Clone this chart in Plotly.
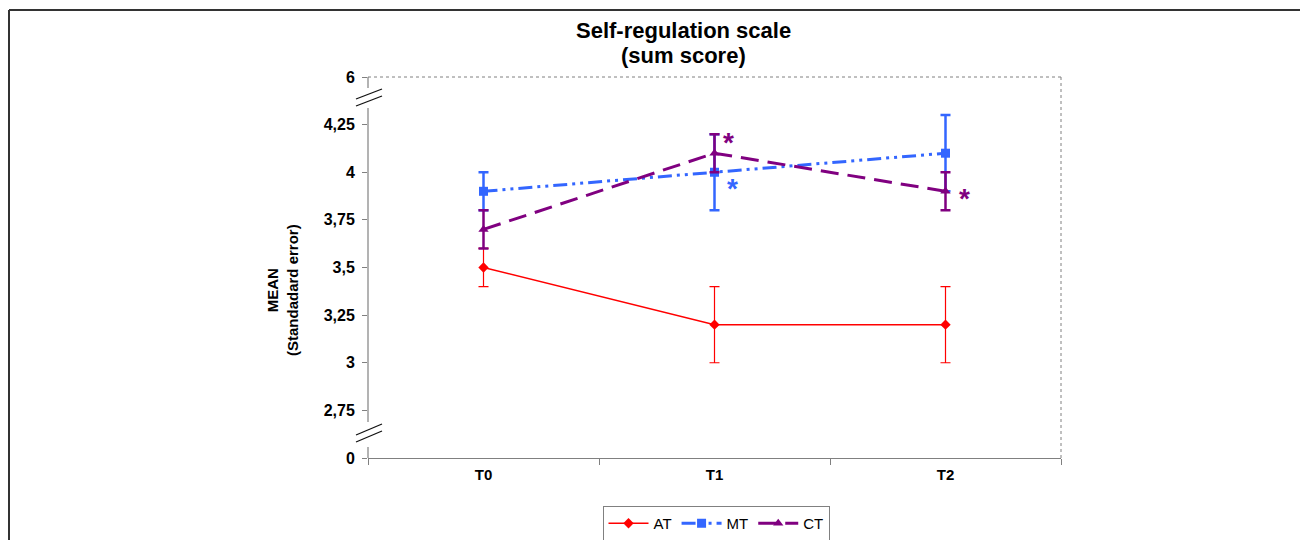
import plotly.graph_objects as go

# ---------------- data ----------------
categories = ["T0", "T1", "T2"]
at_mean = [3.5, 3.2, 3.2]
at_err = [0.1, 0.2, 0.2]
mt_mean = [3.9, 4.0, 4.1]
mt_err = [0.1, 0.2, 0.2]
ct_mean = [3.7, 4.1, 3.9]
ct_err = [0.1, 0.1, 0.1]

# broken y axis: axis position 2.5 shows "0", 4.5 shows "6"
ytick_vals = [2.5, 2.75, 3.0, 3.25, 3.5, 3.75, 4.0, 4.25, 4.5]
ytick_text = ["0", "2,75", "3", "3,25", "3,5", "3,75", "4", "4,25", "6"]

# significance markers: (category, y, color)
star_cat = ["T1", "T1", "T2"]
star_y = [4.17, 3.93, 3.88]
star_col = ["#800080", "#3366FF", "#800080"]
star_dx = [14, 18, 19]

RED = "#FF0000"
BLUE = "#3366FF"
PURPLE = "#800080"
GRAY = "#808080"
FONT = "Arial, Liberation Sans, sans-serif"

OFF = 8  # page offset (body margin)
# plot area in page pixels
PL, PR, PT, PB = 368, 1061, 77, 458
W, H = 1308, 540
L, R, T, B = PL - OFF, PR - OFF, PT - OFF, PB - OFF


def px(x):  # page pixel x -> paper x
    return (x - PL) / (PR - PL)


def py(y):  # page pixel y -> paper y
    return 1 - (y - PT) / (PB - PT)


def yv(y):  # page pixel y -> y data
    return 4.5 - (y - PT) / (PB - PT) * 2.0


fig = go.Figure()

fig.add_trace(go.Scatter(
    x=categories, y=at_mean, name="AT", mode="lines+markers",
    line=dict(color=RED, width=1.5),
    marker=dict(symbol="diamond", size=8, color=RED),
    error_y=dict(type="data", array=at_err, color=RED, thickness=1.2, width=5),
))
fig.add_trace(go.Scatter(
    x=categories, y=mt_mean, name="MT", mode="lines+markers",
    line=dict(color=BLUE, width=3, dash="14px,5px,3px,5px,3px,5px"),
    marker=dict(symbol="square", size=9, color=BLUE),
    error_y=dict(type="data", array=mt_err, color=BLUE, thickness=2.5, width=5),
))
fig.add_trace(go.Scatter(
    x=categories, y=ct_mean, name="CT", mode="lines+markers",
    line=dict(color=PURPLE, width=3, dash="18px,9px"),
    marker=dict(symbol="triangle-up", size=9, color=PURPLE),
    error_y=dict(type="data", array=ct_err, color=PURPLE, thickness=2.5, width=5),
))

shapes = []
# y axis segments (with gaps for breaks)
for y0, y1 in [(77, 88), (108, 422), (447, 458)]:
    shapes.append(dict(type="line", xref="paper", yref="y", x0=0, x1=0,
                       y0=yv(y0), y1=yv(y1), line=dict(color=GRAY, width=1.2)))
# break marks
for (x0, y0, x1, y1) in [(356, 99, 382, 89), (356, 106, 382, 96),
                         (356, 435, 382, 424), (356, 442, 382, 431)]:
    shapes.append(dict(type="line", xref="paper", yref="y", x0=px(x0), x1=px(x1),
                       y0=yv(y0), y1=yv(y1), line=dict(color="#111111", width=1.3)))
# dotted top and right border of plot area
shapes.append(dict(type="line", xref="paper", yref="paper", x0=0, x1=1, y0=1, y1=1,
                   line=dict(color=GRAY, width=1, dash="dot")))
shapes.append(dict(type="line", xref="paper", yref="paper", x0=1, x1=1, y0=0, y1=1,
                   line=dict(color=GRAY, width=1, dash="dot")))
# outer frame (top and left)
shapes.append(dict(type="line", xref="paper", yref="paper", x0=px(9), x1=px(1302),
                   y0=py(10), y1=py(10), line=dict(color="#333333", width=2)))
shapes.append(dict(type="line", xref="paper", yref="paper", x0=px(9), x1=px(9),
                   y0=py(10), y1=py(560), line=dict(color="#333333", width=2)))

annotations = [
    dict(text="<b>Self-regulation scale</b>", xref="paper", yref="paper",
         x=px(683), y=py(30), xanchor="center", yanchor="middle", showarrow=False,
         font=dict(family=FONT, size=22, color="black")),
    dict(text="<b>(sum score)</b>", xref="paper", yref="paper",
         x=px(683), y=py(55), xanchor="center", yanchor="middle", showarrow=False,
         font=dict(family=FONT, size=22, color="black")),
    dict(text="<b>MEAN<br>(Standadard error)</b>", xref="paper", yref="paper",
         x=px(282), y=py(290), xanchor="center", yanchor="middle", showarrow=False,
         textangle=-90, font=dict(family=FONT, size=15, color="black")),
]
for c, y, col, dx in zip(star_cat, star_y, star_col, star_dx):
    annotations.append(dict(text="<b>*</b>", x=c, y=y, xref="x", yref="y",
                            xshift=dx, yshift=-3, showarrow=False,
                            font=dict(family=FONT, size=28, color=col)))

fig.update_layout(
    width=W, height=H,
    margin=dict(l=L, r=W - R, t=T, b=H - B, pad=0, autoexpand=False),
    paper_bgcolor="white", plot_bgcolor="white",
    font=dict(family=FONT, size=14, color="black"),
    showlegend=True,
    legend=dict(orientation="h", x=px(716), y=py(506), xanchor="center", yanchor="top",
                bordercolor=GRAY, borderwidth=1, font=dict(family=FONT, size=15),
                itemwidth=40, tracegroupgap=0),
    xaxis=dict(type="category", range=[-0.5, 2.5], tickson="boundaries",
               ticks="outside", ticklen=6, tickcolor=GRAY, showline=True,
               linecolor=GRAY, linewidth=1.2, showgrid=False, zeroline=False,
               automargin=False, ticklabelstandoff=3,
               tickfont=dict(family=FONT, size=15, color="black", weight="bold")),
    yaxis=dict(range=[2.5, 4.5], tickvals=ytick_vals, ticktext=ytick_text,
               ticks="outside", ticklen=5, tickcolor=GRAY, showline=False,
               showgrid=False, zeroline=False, automargin=False,
               ticklabelstandoff=4,
               tickfont=dict(family=FONT, size=16, color="black", weight="bold")),
    shapes=shapes, annotations=annotations,
)

fig.write_html("out.html")
